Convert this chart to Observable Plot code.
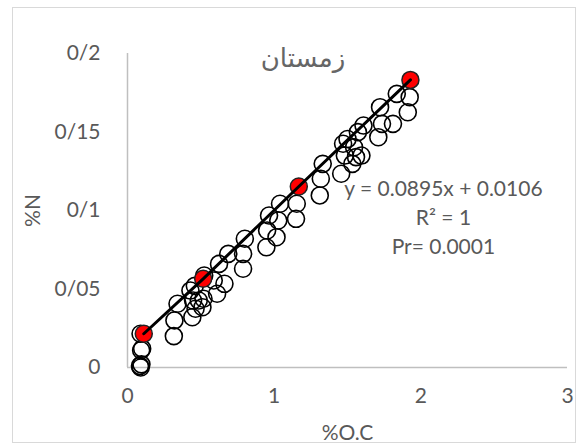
<!DOCTYPE html>
<html>
<head>
<meta charset="utf-8">
<script src="https://cdn.jsdelivr.net/npm/d3@7"></script>
<script src="https://cdn.jsdelivr.net/npm/@observablehq/plot@0.6"></script>
<style>
  html, body { margin: 0; padding: 0; background: #fff; }
  #wrap { position: relative; width: 581px; height: 445px; }
  #frame { position: absolute; left: 12px; top: 7px; width: 564px; height: 436px; border: 1px solid #d9d9d9; box-sizing: border-box; pointer-events: none; }
  #title { position: absolute; left: 0; width: 606px; top: 43px; text-align: center; font-family: "DejaVu Sans", "Noto Sans", sans-serif; font-size: 26px; line-height: 1.2; color: #666666; direction: rtl; }
</style>
</head>
<body>
<div id="wrap">
  <div id="frame"></div>
  <div id="chart"></div>
  <div id="title"></div>
</div>
<script>
// Title and labels
const titleText = "زمستان";
const xLabel = "%O.C";
const yLabel = "%N";
const annotation = ["y = 0.0895x + 0.0106", "R² = 1", "Pr= 0.0001"];

// Open circles: %O.C (x) and %N (y)
const xOC = [0.090, 0.095, 0.085, 0.093, 0.100, 0.089, 0.316, 0.320, 0.341, 0.442,
             0.447, 0.459, 0.511, 0.518, 0.523, 0.486, 0.464, 0.429, 0.588, 0.611,
             0.624, 0.661, 0.687, 0.788, 0.788, 0.800, 0.947, 0.952, 0.965, 1.016,
             1.040, 1.028, 1.154, 1.149, 1.311, 1.318, 1.331, 1.457, 1.470, 1.482,
             1.533, 1.545, 1.558, 1.571, 1.595, 1.609, 1.710, 1.722, 1.735, 1.810,
             1.836, 1.911, 1.924, 1.500];
const yN  = [0.000, 0.002, 0.001, 0.011, 0.012, 0.0215, 0.020, 0.030, 0.0406, 0.032,
             0.0427, 0.052, 0.0384, 0.0438, 0.0586, 0.0427, 0.0374, 0.049, 0.0554, 0.047,
             0.066, 0.0533, 0.0724, 0.0629, 0.0724, 0.082, 0.0766, 0.0873, 0.0968, 0.083,
             0.1043, 0.0936, 0.1043, 0.0947, 0.1096, 0.1202, 0.1297, 0.1234, 0.1425, 0.135,
             0.1297, 0.1403, 0.134, 0.1499, 0.135, 0.1541, 0.1467, 0.1658, 0.1552, 0.1552,
             0.1743, 0.1626, 0.1722, 0.1455];

// Red (mean) points
const meanX = [0.111, 0.516, 1.168, 1.929];
const meanY = [0.0215, 0.0565, 0.1153, 0.1832];

// Axis ticks
const xTicks = [0, 1, 2, 3];
const xTickLabels = ["0", "1", "2", "3"];
const yTicks = [0, 0.05, 0.1, 0.15, 0.2];
const yTickLabels = ["0", "0/05", "0/1", "0/15", "0/2"];

// Annotation anchor (data coordinates, middle line)
const annX = 2.154;
const annY = 0.0968;

const pts = xOC.map((x, i) => ({x, y: yN[i]}));
const means = meanX.map((x, i) => ({x, y: meanY[i]}));
const fmtX = d => xTickLabels[xTicks.indexOf(d)];
const fmtY = d => yTickLabels[yTicks.indexOf(d)];

const chart = Plot.plot({
  width: 581,
  height: 445,
  marginLeft: 127,
  marginRight: 14,
  marginTop: 53,
  marginBottom: 78,
  style: {fontFamily: "Lato, 'Noto Sans', sans-serif", fontSize: "21px", color: "#595959", background: "transparent"},
  x: {domain: [0, 3]},
  y: {domain: [0, 0.2]},
  marks: [
    Plot.axisX({ticks: xTicks, tickFormat: fmtX, tickSize: 0, tickPadding: 21, fontSize: 21, fill: "#595959", label: xLabel, labelAnchor: "center", labelArrow: "none", labelOffset: 72}),
    Plot.axisY({ticks: yTicks, tickFormat: fmtY, tickSize: 0, tickPadding: 27, fontSize: 21, fill: "#595959", label: yLabel, labelAnchor: "center", labelArrow: "none", labelOffset: 102}),
    Plot.ruleX([0], {stroke: "#bfbfbf", strokeWidth: 1.5}),
    Plot.ruleY([0], {stroke: "#bfbfbf", strokeWidth: 1.5}),
    Plot.dot(pts, {x: "x", y: "y", r: 8.5, stroke: "#000", strokeWidth: 1.6, fill: "none"}),
    Plot.dot(means, {x: "x", y: "y", r: 8.5, stroke: "#222", strokeWidth: 1.5, fill: "#ff0000"}),
    Plot.line(means, {x: "x", y: "y", stroke: "#000", strokeWidth: 3}),
    Plot.text([annotation.join("\n")], {x: annX, y: annY, fontSize: 21, fill: "#595959", textAnchor: "middle", lineHeight: 1.38, lineAnchor: "middle"})
  ]
});
document.getElementById("chart").appendChild(chart);
document.getElementById("title").textContent = titleText;
</script>
</body>
</html>
